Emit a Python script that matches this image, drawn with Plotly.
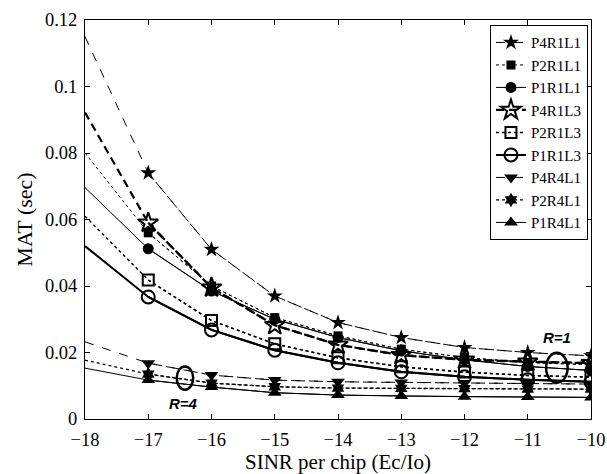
import plotly.graph_objects as go

x = [-18, -17, -16, -15, -14, -13, -12, -11, -10]

names = ["P4R1L1", "P2R1L1", "P1R1L1", "P4R1L3", "P2R1L3", "P1R1L3", "P4R4L1", "P2R4L1", "P1R4L1"]

P4R1L1 = [0.115, 0.074, 0.051, 0.037, 0.029, 0.0245, 0.0215, 0.0200, 0.0190]
P2R1L1 = [0.080, 0.056, 0.040, 0.0305, 0.0250, 0.0210, 0.0185, 0.0170, 0.0163]
P1R1L1 = [0.0696, 0.0512, 0.0385, 0.0300, 0.0245, 0.0205, 0.0178, 0.0158, 0.0146]
P4R1L3 = [0.0922, 0.0590, 0.0395, 0.0282, 0.0223, 0.0192, 0.0178, 0.0172, 0.0168]
P2R1L3 = [0.0610, 0.0418, 0.0296, 0.0226, 0.0184, 0.0157, 0.0141, 0.0131, 0.0126]
P1R1L3 = [0.0520, 0.0367, 0.0268, 0.0207, 0.0169, 0.0142, 0.0127, 0.0118, 0.0112]
P4R4L1 = [0.0232, 0.0168, 0.0132, 0.0117, 0.0112, 0.0110, 0.0108, 0.0106, 0.0105]
P2R4L1 = [0.0177, 0.0135, 0.0108, 0.0097, 0.0093, 0.0092, 0.0091, 0.0090, 0.0090]
P1R4L1 = [0.0153, 0.0117, 0.0096, 0.0079, 0.0072, 0.0069, 0.0067, 0.0066, 0.0065]

series = [P4R1L1, P2R1L1, P1R1L1, P4R1L3, P2R1L3, P1R1L3, P4R4L1, P2R4L1, P1R4L1]

styles = [
    dict(dash="dash", width=1, symbol="star", size=12, lw=0),
    dict(dash="dot", width=1, symbol="square", size=9, lw=0),
    dict(dash="solid", width=1, symbol="circle", size=11, lw=0),
    dict(dash="8px,5px", width=2.2, symbol="star-open", size=15, lw=2),
    dict(dash="dot", width=1.4, symbol="square-open", size=11, lw=2),
    dict(dash="solid", width=2, symbol="circle-open", size=13, lw=2),
    dict(dash="dash", width=1, symbol="triangle-down", size=12, lw=0),
    dict(dash="dot", width=1.3, symbol="hexagram", size=11, lw=0),
    dict(dash="solid", width=1, symbol="triangle-up", size=12, lw=0),
]

fig = go.Figure()
for name, ys, st in zip(names, series, styles):
    # full curve (line only)
    fig.add_trace(go.Scatter(
        x=x, y=ys, mode="lines", showlegend=False, hoverinfo="skip",
        line=dict(color="black", width=st["width"], dash=st["dash"]),
    ))
    # markers at integer points from -17 on
    fig.add_trace(go.Scatter(
        x=x[1:], y=ys[1:], mode="lines+markers", name=name,
        line=dict(color="black", width=st["width"], dash=st["dash"]),
        marker=dict(symbol=st["symbol"], size=st["size"], color="black",
                    line=dict(color="black", width=st["lw"])),
    ))

serif = "Liberation Serif, Times New Roman, serif"

fig.update_layout(
    width=607, height=474,
    margin=dict(l=85, r=16, t=20, b=55),
    paper_bgcolor="white", plot_bgcolor="white",
    font=dict(family=serif, color="black", size=16),
    showlegend=True,
    legend=dict(
        x=0.994, y=0.987, xanchor="right", yanchor="top",
        bgcolor="white", bordercolor="black", borderwidth=1,
        font=dict(family=serif, size=15, color="black"),
        tracegroupgap=0, itemwidth=30,
    ),
    xaxis=dict(
        range=[-18, -10], tickmode="array", tickvals=x,
        ticks="inside", ticklen=5, tickcolor="black", mirror="ticks",
        showline=True, linecolor="black", linewidth=1, showgrid=False, zeroline=False,
        tickfont=dict(family=serif, size=18.5), ticklabelstandoff=4,
        ticklabeloverflow="allow", automargin=False,
        title=dict(text="SINR per chip (Ec/Io)", font=dict(family=serif, size=21), standoff=2),
    ),
    yaxis=dict(
        range=[0, 0.12], tickmode="array",
        tickvals=[0, 0.02, 0.04, 0.06, 0.08, 0.1, 0.12],
        ticktext=["0", "0.02", "0.04", "0.06", "0.08", "0.1", "0.12"],
        ticks="inside", ticklen=5, tickcolor="black", mirror="ticks",
        showline=True, linecolor="black", linewidth=1, showgrid=False, zeroline=False,
        tickfont=dict(family=serif, size=18.5), ticklabelstandoff=3, automargin=False,
        title=dict(text="MAT (sec)", font=dict(family=serif, size=22), standoff=6),
    ),
)

# R=1 / R=4 ellipses and labels
fig.add_shape(type="circle", xref="x", yref="y",
              x0=-10.71, x1=-10.37, y0=0.0109, y1=0.0199,
              line=dict(color="black", width=2.5))
fig.add_shape(type="circle", xref="x", yref="y",
              x0=-16.55, x1=-16.29, y0=0.0088, y1=0.0158,
              line=dict(color="black", width=2.5))
fig.add_annotation(x=-10.53, y=0.0244, xref="x", yref="y", text="<b><i>R=1</i></b>",
                   showarrow=False, font=dict(family="Liberation Sans, Arial", size=15, color="black"))
fig.add_annotation(x=-16.45, y=0.0048, xref="x", yref="y", text="<b><i>R=4</i></b>",
                   showarrow=False, font=dict(family="Liberation Sans, Arial", size=15, color="black"))

fig.write_html("out.html")
